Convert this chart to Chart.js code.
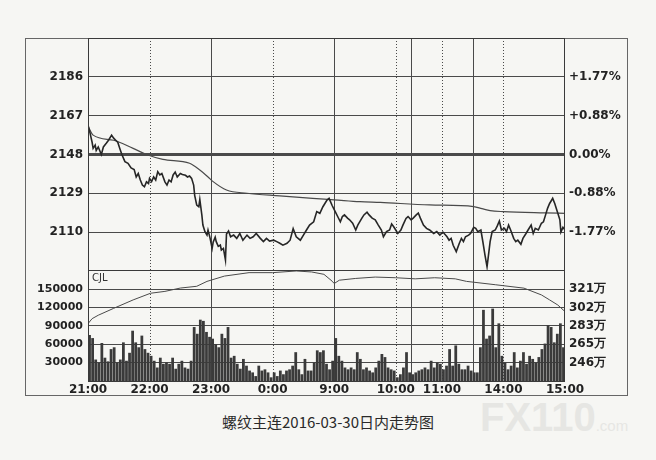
<!DOCTYPE html>
<html>
<head>
<meta charset="utf-8">
<script src="https://cdn.jsdelivr.net/npm/chart.js@4.4.1/dist/chart.umd.min.js"></script>
<style>
  html, body { margin: 0; padding: 0; }
  body { width: 656px; height: 460px; background: #f6f6f3; position: relative; overflow: hidden; }
  #frame { position: absolute; left: 25px; top: 38px; width: 603px; height: 358px; border: 1px solid #666; box-sizing: border-box; }
  #priceChart { position: absolute; left: 25px; top: 38px; }
  #volChart { position: absolute; left: 25px; top: 270px; }
  #caption { position: absolute; left: 0; width: 656px; top: 411px; text-align: center; font: 15px "Noto Sans CJK SC", sans-serif; color: #2a2a2a; }
  #mark { position: absolute; left: 480px; top: 395px; font: bold 40px "Liberation Sans", sans-serif; color: #e6e6e3; }
  #mark span { font-size: 15px; font-weight: normal; }
</style>
</head>
<body>
<div id="mark">FX110<span>.com</span></div>
<div id="frame"></div>
<canvas id="priceChart" width="603" height="232"></canvas>
<canvas id="volChart" width="603" height="126"></canvas>
<div id="caption">螺纹主连2016-03-30日内走势图</div>
<script>
// minutes from 21:00 (night 21:00-1:00, then 9:00-10:15, 10:30-11:30, 13:30-15:00)
const timeTickMin = [0, 60, 120, 180, 240, 300, 345, 405, 465];
const timeLabels = ['21:00', '22:00', '23:00', '0:00', '9:00', '10:00', '11:00', '14:00', '15:00'];
const solidLineMin = [120, 240, 315, 375];
const dottedLineMin = [60, 180, 300, 345, 405];

const priceTicks = [2110, 2129, 2148, 2167, 2186];
const pctLabels = ['-1.77%', '-0.88%', '0.00%', '+0.88%', '+1.77%'];
const settlePrice = 2148;

// price (minute index / last price)
const priceMin = [0,2,4,5,7,8,10,13,15,18,20,23,25,27,29,31,33,36,39,42,45,47,49,51,53,55,57,59,60,62,64,66,68,70,72,75,77,79,81,83,85,87,90,92,95,97,99,101,103,104,106,108,109,111,112,114,116,117,119,121,122,124,125,127,129,130,132,134,135,137,139,142,145,148,151,155,158,161,164,168,171,174,177,181,184,187,190,194,197,200,203,207,210,213,216,220,223,226,229,233,235,238,241,244,246,248,250,253,255,258,261,263,267,269,272,274,277,280,283,286,288,291,294,296,298,300,302,305,307,310,312,315,317,320,322,324,327,330,333,337,340,343,346,350,352,354,356,359,362,364,366,368,371,373,376,378,380,383,385,387,389,390,392,394,397,399,401,403,406,408,410,412,415,417,419,422,424,427,429,432,434,436,439,442,444,446,448,450,453,455,457,458,460,461,463,465];
const priceVal = [2162.5,2158.5,2154,2151,2152.6,2150,2151.7,2148,2151.7,2153.6,2155,2157.5,2156,2155,2154,2151,2148,2144.5,2143.7,2141.4,2140.6,2137,2138.7,2135.5,2133,2132.2,2134.6,2133.8,2136.3,2134.7,2137,2135.5,2139.6,2138,2138.7,2134.6,2133,2135.5,2134.6,2138,2139.4,2137,2138.7,2138.2,2137.8,2137,2137.5,2136.3,2133,2128,2123.2,2122.4,2126,2118.3,2113.4,2110.2,2108.5,2111,2107,2102,2105,2107.5,2105.3,2103,2103.6,2101.2,2102,2096.3,2109,2110.5,2107.7,2108.5,2106.9,2109.3,2106,2108.5,2106.9,2107.7,2109.3,2106.9,2105.3,2106.9,2105.6,2106,2105.3,2104.5,2103.6,2104.5,2106,2111.7,2107.7,2106,2108.5,2111,2113.4,2115,2120,2119.2,2122.4,2125.7,2126.5,2123,2120,2117,2115,2117.6,2118.4,2116.8,2116,2114.3,2111,2113.4,2116.8,2118.4,2119.7,2118.4,2116.8,2116,2113.4,2111,2107.7,2110.2,2111,2114,2112.6,2111,2109.3,2111,2113.4,2116.7,2117.6,2116,2116.8,2118.4,2119.3,2116.8,2113.4,2111.8,2111,2109.3,2110.2,2108.5,2110,2107.7,2106,2106.9,2103.5,2100.4,2104.5,2106.9,2105.3,2107.7,2108.5,2109.3,2112.3,2111.8,2110.2,2111,2105,2098.7,2093,2097,2105.3,2110.2,2111,2113,2115.4,2111,2111.8,2110.2,2113.4,2111,2106.9,2105.3,2106,2104,2106.9,2109.3,2111,2113.4,2109.3,2111.8,2111,2114.3,2115,2118.3,2121.6,2124,2126.5,2124,2120.8,2119.2,2116,2110,2112.3,2111];

// average price line
const avgMin = [0,5,25,44,57,73,99,109,117,122,135,155,187,219,240,265,285,333,376,384,392,405,445,465];
const avgVal = [2162,2157.5,2155,2151,2148,2145.6,2143.7,2140.4,2137,2134.7,2130.6,2129,2127.7,2126.5,2125.8,2124.9,2124.5,2123.3,2122.5,2121.5,2120.5,2120,2119.4,2119.2];

// volume (CJL), one bar per 3 minutes
const volStep = 3;
const volVal = [75000,70000,35000,30000,62000,38000,32000,52000,55000,30000,
  35000,63000,33000,46000,82000,63000,55000,74000,52000,46000,
  41000,33000,22000,38000,28000,30000,28000,38000,20000,28000,
  33000,22000,20000,33000,88000,77000,100000,98000,80000,72000,
  69000,60000,55000,77000,70000,88000,38000,41000,28000,20000,
  36000,25000,17000,14000,8000,25000,17000,19000,14000,6000,
  14000,8000,17000,11000,17000,19000,25000,47000,19000,11000,
  36000,17000,17000,30000,50000,47000,50000,28000,19000,33000,
  70000,41000,33000,22000,19000,22000,19000,47000,36000,19000,
  22000,17000,14000,22000,33000,44000,39000,22000,19000,17000,
  6000,11000,22000,47000,14000,11000,14000,17000,19000,22000,
  19000,33000,22000,30000,28000,19000,25000,52000,25000,58000,
  28000,19000,19000,25000,17000,14000,14000,55000,116000,69000,
  74000,118000,55000,94000,41000,30000,19000,25000,47000,22000,
  33000,47000,28000,41000,36000,30000,39000,52000,61000,91000,
  88000,63000,77000,94000,55000];
const volTicks = [30000, 60000, 90000, 120000, 150000];

// open interest, in 万
const oiMin = [0,4,10,25,44,61,75,90,106,116,133,157,180,203,218,230,238,240,245,261,280,300,319,338,358,369,397,425,442,450,458,465];
const oiVal = [285.7,290.8,294.3,301.3,309.9,316.7,318.6,322,323.8,328.8,334.2,337.7,337.7,339.4,338.4,336,329,326.6,330,331.8,333.2,332.5,331.4,332.5,331.4,328.8,325.4,321.9,315,309.9,304.7,298];
const oiTicks = [246, 264.75, 283.5, 302.25, 321];
const oiLabels = ['246万', '265万', '283万', '302万', '321万'];

Chart.defaults.animation = false;
Chart.defaults.font.family = '"DejaVu Sans", sans-serif';
Chart.defaults.color = '#222';

const gridInk = '#4a4a4a';

const sessionGrid = {
    id: 'sessionGrid',
    beforeDatasetsDraw(chart, args, opts) {
        const ctx = chart.ctx, a = chart.chartArea, x = chart.scales.x;
        ctx.save();
        ctx.strokeStyle = gridInk;
        ctx.lineWidth = 1;
        solidLineMin.forEach(m => {
            const px = Math.round(x.getPixelForValue(m)) + 0.5;
            ctx.beginPath(); ctx.moveTo(px, a.top); ctx.lineTo(px, a.bottom); ctx.stroke();
        });
        ctx.setLineDash([1, 2]);
        dottedLineMin.forEach(m => {
            const px = Math.round(x.getPixelForValue(m)) + 0.5;
            ctx.beginPath(); ctx.moveTo(px, a.top); ctx.lineTo(px, a.bottom); ctx.stroke();
        });
        ctx.restore();
    },
    afterDraw(chart, args, opts) {
        const ctx = chart.ctx, a = chart.chartArea;
        ctx.save();
        ctx.strokeStyle = '#3a3a3a';
        ctx.lineWidth = 1;
        ctx.strokeRect(Math.round(a.left) + 0.5, Math.round(a.top) + 0.5, Math.round(a.right - a.left) - 1, Math.round(a.bottom - a.top));
        if (opts.label) {
            ctx.fillStyle = '#333';
            ctx.font = '10px "DejaVu Sans", sans-serif';
            ctx.textBaseline = 'top';
            ctx.fillText(opts.label, a.left + 4, a.top + 3);
        }
        ctx.restore();
    }
};

// no edge padding: the plot areas must line up with the frame
const noPadY = s => { s.width = 63; s.paddingTop = 0; s.paddingBottom = 0; };

const xAxis = (show) => ({
    type: 'linear', min: 0, max: 465, display: show, offset: false,
    grid: { display: false, drawTicks: false, offset: false }, border: { display: false },
    afterBuildTicks: s => { s.ticks = timeTickMin.map(v => ({ value: v })); },
    ticks: { autoSkip: false, maxRotation: 0, padding: 2, font: { size: 12, weight: 'bold' },
        callback: (v, i) => timeLabels[i] },
    afterFit: s => { s.height = show ? 15 : 0; s.paddingLeft = 0; s.paddingRight = 0; }
});

new Chart(document.getElementById('priceChart'), {
    type: 'line',
    data: {
        datasets: [
            { label: '价格', data: priceMin.map((m, i) => ({ x: m, y: priceVal[i] })),
              borderColor: '#262626', borderWidth: 1.6, pointRadius: 0, yAxisID: 'y' },
            { label: '均价', data: avgMin.map((m, i) => ({ x: m, y: avgVal[i] })),
              borderColor: '#4a4a4a', borderWidth: 1.2, pointRadius: 0, cubicInterpolationMode: 'monotone', yAxisID: 'y' }
        ]
    },
    options: {
        responsive: false,
        layout: { padding: 0 },
        plugins: { legend: { display: false }, tooltip: { enabled: false }, sessionGrid: {} },
        scales: {
            x: xAxis(false),
            y: {
                position: 'left', min: 2091.4, max: 2205.1,
                afterBuildTicks: s => { s.ticks = priceTicks.map(v => ({ value: v })); },
                grid: { drawTicks: false, color: gridInk,
                        lineWidth: c => (c.tick && c.tick.value === settlePrice) ? 3 : 1 },
                border: { display: false },
                ticks: { padding: 5, font: { size: 12, weight: 'bold' }, callback: v => String(v) },
                afterFit: noPadY
            },
            yr: {
                position: 'right', min: 2091.4, max: 2205.1,
                afterBuildTicks: s => { s.ticks = priceTicks.map(v => ({ value: v })); },
                grid: { display: false, drawTicks: false }, border: { display: false },
                ticks: { padding: 4, font: { size: 12, weight: 'bold' }, callback: (v, i) => pctLabels[i] },
                afterFit: noPadY
            }
        }
    },
    plugins: [sessionGrid]
});

new Chart(document.getElementById('volChart'), {
    data: {
        datasets: [
            { type: 'line', label: '持仓', data: oiMin.map((m, i) => ({ x: m, y: oiVal[i] })),
              borderColor: '#4a4a4a', borderWidth: 1, pointRadius: 0, yAxisID: 'yr', order: 0 },
            { type: 'bar', label: 'CJL', data: volVal.map((v, i) => ({ x: i * volStep + volStep / 2, y: v })),
              backgroundColor: '#3a3a3a', barPercentage: 0.9, categoryPercentage: 1, yAxisID: 'y', order: 1 }
        ]
    },
    options: {
        responsive: false,
        layout: { padding: 0 },
        plugins: { legend: { display: false }, tooltip: { enabled: false }, sessionGrid: { label: 'CJL' } },
        scales: {
            x: xAxis(true),
            y: {
                position: 'left', min: 0, max: 181000,
                afterBuildTicks: s => { s.ticks = volTicks.map(v => ({ value: v })); },
                grid: { drawTicks: false, color: gridInk, lineWidth: 1 },
                border: { display: false },
                ticks: { padding: 5, font: { size: 11, weight: 'bold' }, callback: v => String(v) },
                afterFit: noPadY
            },
            yr: {
                position: 'right', min: 227.25, max: 340.4,
                afterBuildTicks: s => { s.ticks = oiTicks.map(v => ({ value: v })); },
                grid: { display: false, drawTicks: false }, border: { display: false },
                ticks: { padding: 4, font: { size: 12, weight: 'bold' }, callback: (v, i) => oiLabels[i] },
                afterFit: noPadY
            }
        }
    },
    plugins: [sessionGrid]
});
</script>
</body>
</html>
